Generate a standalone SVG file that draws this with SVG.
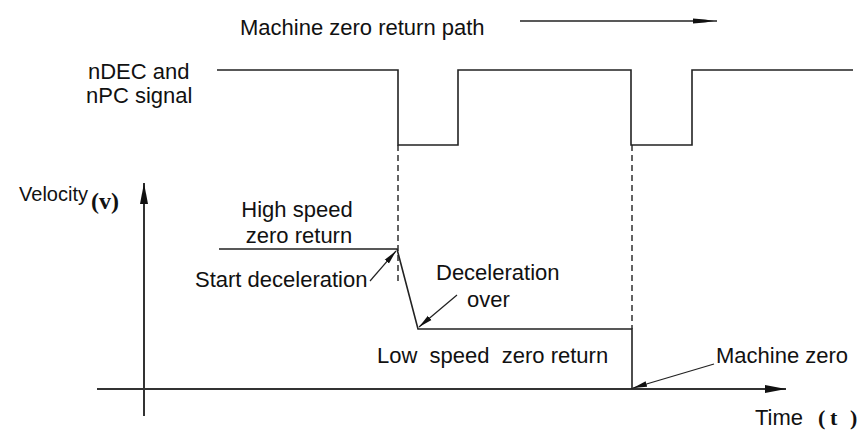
<svg xmlns="http://www.w3.org/2000/svg" width="860" height="430" viewBox="0 0 860 430">
<style>
.t{font-family:"Liberation Sans",Arial,sans-serif;font-size:22px;fill:#111}
.ln{fill:none;stroke:#222;stroke-width:1.6}
.ax{fill:none;stroke:#333;stroke-width:2}
.dash{fill:none;stroke:#222;stroke-width:1.4;stroke-dasharray:6 4}
.ann{fill:none;stroke:#222;stroke-width:1.2}
.sv{font-family:"Liberation Serif","Times New Roman",serif;font-weight:bold;font-size:24px;fill:#111}
.vl{font-family:"Liberation Sans",Arial,sans-serif;font-size:20px;fill:#111}
</style>
<defs>
<marker id="ah" markerUnits="userSpaceOnUse" markerWidth="16" markerHeight="8" refX="14" refY="4" orient="auto">
<path d="M0,1.2 L14,4 L0,6.8 z" fill="#111"/>
</marker>
<marker id="axh" markerUnits="userSpaceOnUse" markerWidth="22" markerHeight="10" refX="21" refY="5" orient="auto">
<path d="M0,1 L21,5 L0,9 z" fill="#111"/>
</marker>
</defs>
<rect width="860" height="430" fill="#fff"/>

<g id="title">
<text class="t" x="240" y="35">Machine zero return path</text>
<line class="ln" x1="520" y1="21" x2="717" y2="21"/>
<path d="M693,18.5 L705,19.5 L714,21 L705,22.5 L693,23.5 z" fill="#111"/>
</g>

<g id="signal">
<text class="t" x="88" y="79">nDEC and</text>
<text class="t" x="86" y="103">nPC signal</text>
<path class="ln" d="M217,70 H398 V145 H458 V70 H631 V145 H692 V70 H853"/>
</g>

<g id="axes">
<line class="ax" x1="144" y1="416" x2="144" y2="183" marker-end="url(#axh)"/>
<line class="ax" x1="97" y1="389" x2="786" y2="389" marker-end="url(#axh)"/>
<text class="vl" x="88" y="201" text-anchor="end">Velocity</text>
<text class="sv" x="91" y="209">(v)</text>
<text class="t" x="755" y="425">Time</text>
<text class="sv" y="425" style="font-size:22px"><tspan x="818">(</tspan><tspan x="830">t</tspan><tspan x="850">)</tspan></text>
</g>

<g id="profile">
<path class="ln" d="M219,249 H397 L418,329 H632 V389"/>
</g>

<g id="guides">
<line class="dash" x1="398" y1="145" x2="398" y2="285"/>
<line class="dash" x1="632" y1="145" x2="632" y2="329"/>
</g>

<g id="high-speed">
<text class="t" x="297" y="217" text-anchor="middle">High speed</text>
<text class="t" x="299" y="243" text-anchor="middle">zero return</text>
</g>

<g id="start-deceleration">
<text class="t" x="195" y="287">Start deceleration</text>
</g>

<g id="deceleration-over">
<text class="t" x="436" y="280">Deceleration</text>
<text class="t" x="467" y="307">over</text>
</g>

<g id="low-speed">
<text class="t" x="377" y="363" xml:space="preserve">Low  speed  zero return</text>
</g>

<g id="machine-zero">
<text class="t" x="716" y="363">Machine zero</text>
</g>

<g id="connectors">
<line class="ann" x1="370" y1="281" x2="396" y2="251" marker-end="url(#ah)"/>
<line class="ann" x1="457" y1="295" x2="419" y2="327" marker-end="url(#ah)"/>
<line class="ann" x1="714" y1="364" x2="633" y2="388" marker-end="url(#ah)"/>
</g>
</svg>
